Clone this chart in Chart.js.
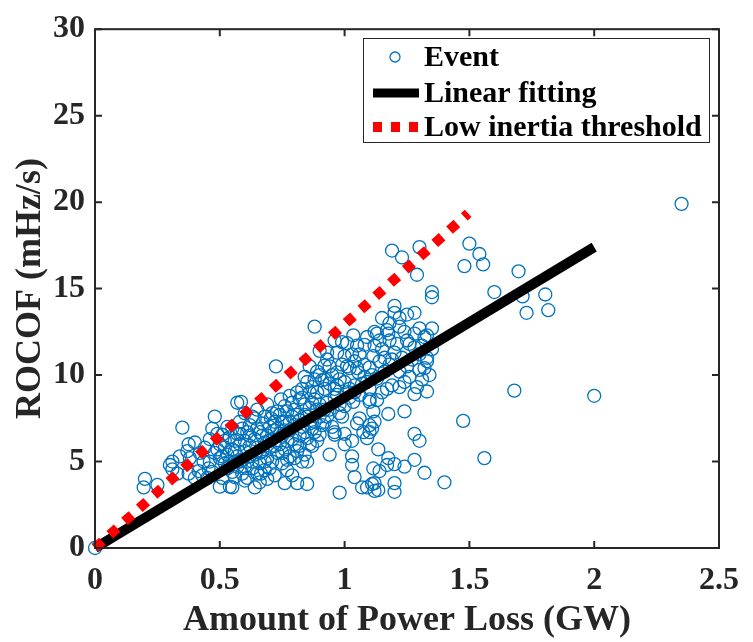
<!DOCTYPE html>
<html>
<head>
<meta charset="utf-8">
<script src="https://cdn.jsdelivr.net/npm/chart.js@4.4.1/dist/chart.umd.min.js"></script>
<style>
  body { margin: 0; background: #fff; }
  #wrap { width: 753px; height: 642px; }
</style>
</head>
<body>
<div id="wrap"><canvas id="rocofChart" width="753" height="642"></canvas></div>
<script>
// Event points (power loss in GW, ROCOF in mHz/s)
const eventLoss = [
  0, 0.2, 0.195, 0.25, 0.31, 0.31, 0.35, 0.375, 0.37, 0.40,
  0.375, 0.40, 0.415, 0.435, 0.45, 0.455, 0.3, 0.33, 0.34, 0.38,
  0.42, 0.43, 0.44, 0.46, 0.47, 0.48, 0.48, 0.50, 0.54, 0.51,
  0.51, 0.52, 0.53, 0.56, 0.56, 0.57, 0.55, 0.55, 0.585, 0.5,
  0.5, 0.52, 0.53, 0.54, 0.55, 0.55, 0.57, 0.57, 0.58, 0.58,
  0.58, 0.59, 0.59, 0.6, 0.6, 0.6, 0.61, 0.61, 0.61, 0.62,
  0.62, 0.6, 0.64, 0.66, 0.665, 0.63, 0.64, 0.64, 0.64, 0.65,
  0.65, 0.66, 0.66, 0.67, 0.67, 0.68, 0.68, 0.69, 0.69, 0.69,
  0.7, 0.7, 0.705, 0.71, 0.71, 0.72, 0.72, 0.725, 0.73, 0.73,
  0.73, 0.74, 0.745, 0.75, 0.75, 0.75, 0.76, 0.76, 0.76, 0.77,
  0.77, 0.77, 0.78, 0.78, 0.78, 0.79, 0.79, 0.80, 0.80, 0.80,
  0.81, 0.81, 0.82, 0.82, 0.82, 0.83, 0.83, 0.84, 0.84, 0.84,
  0.84, 0.85, 0.85, 0.85, 0.85, 0.86, 0.86, 0.86, 0.87, 0.87,
  0.88, 0.88, 0.88, 0.88, 0.89, 0.89, 0.89, 0.90, 0.90, 0.90,
  0.92, 0.92, 0.92, 0.92, 0.93, 0.93, 0.93, 0.94, 0.94, 0.94,
  0.95, 0.95, 0.96, 0.96, 0.96, 0.96, 0.97, 0.97, 0.97, 0.98,
  0.98, 0.98, 0.99, 0.99, 1.0, 1.0, 1.0, 1.0, 1.01, 1.01,
  1.02, 1.02, 1.03, 1.03, 1.03, 1.035, 1.035, 1.04, 1.04, 1.04,
  1.05, 1.05, 1.055, 1.06, 1.06, 1.07, 1.075, 1.08, 1.08, 1.09,
  1.09, 1.09, 1.10, 1.10, 1.10, 1.10, 1.10, 1.11, 1.11, 1.115,
  1.115, 1.115, 1.12, 1.12, 1.12, 1.12, 1.13, 1.135, 1.135, 1.14,
  1.14, 1.15, 1.15, 1.15, 1.16, 1.17, 1.17, 1.175, 1.175, 1.18,
  1.18, 1.18, 1.19, 1.19, 1.20, 1.20, 1.20, 1.20, 1.20, 1.20,
  1.22, 1.22, 1.22, 1.22, 1.23, 1.24, 1.24, 1.24, 1.25, 1.25,
  1.25, 1.26, 1.26, 1.28, 1.28, 1.28, 1.28, 1.28, 1.29, 1.30,
  1.30, 1.30, 1.30, 1.30, 1.31, 1.32, 1.32, 1.32, 1.33, 1.33,
  1.33, 1.35, 1.35, 1.35, 1.35, 1.40, 1.28, 1.13, 1.175, 1.475,
  1.48, 1.50, 1.54, 1.555, 1.56, 1.60, 1.68, 1.697, 1.713, 1.729,
  1.804, 1.816, 2.0, 2.35,
  0.46, 0.47, 0.49, 0.49, 0.51, 0.52, 0.53, 0.54, 0.56, 0.56,
  0.57, 0.58, 0.59, 0.6, 0.62, 0.62, 0.63, 0.63, 0.65, 0.65,
  0.66, 0.67, 0.68, 0.68, 0.69, 0.7, 0.7, 0.71, 0.72, 0.72,
  0.74, 0.74, 0.75, 0.76, 0.76, 0.77, 0.78, 0.79, 0.79, 0.8,
  0.81, 0.81, 0.82, 0.83, 0.83, 0.84, 0.85, 0.86, 0.86, 0.87,
  0.87, 0.88, 0.89, 0.9, 0.9, 0.91, 0.91, 0.92, 0.93, 0.94,
  0.96, 0.97, 0.98, 0.99, 1.0, 1.01, 1.02, 1.03, 1.04, 1.05,
  1.06, 1.07, 1.08, 1.09, 1.1, 1.11, 1.12, 1.13, 1.14, 1.16,
  1.17, 1.19, 1.21, 1.23, 1.24, 1.27, 1.29, 1.31, 1.33, 1.34
];
const eventRocof = [
  0, 4.0, 3.5, 3.65, 5.0, 4.55, 6.96, 6.0, 5.6, 6.1,
  4.3, 4.05, 4.45, 5.0, 4.05, 4.6, 4.8, 4.3, 5.3, 5.2,
  5.5, 4.2, 5.8, 6.3, 6.9, 7.6, 5.5, 3.55, 3.55, 4.05,
  6.55, 5.8, 4.6, 5.0, 6.2, 8.4, 3.5, 6.9, 8.45, 5.2,
  6.0, 4.9, 5.4, 6.4, 4.4, 5.7, 4.7, 5.3, 6.0, 6.6,
  7.3, 4.3, 5.1, 5.6, 6.2, 7.8, 4.05, 6.7, 5.0, 7.1,
  5.9, 3.9, 3.5, 3.8, 4.3, 4.6, 5.4, 6.3, 7.5, 8.0,
  5.8, 6.7, 4.9, 7.2, 5.6, 6.1, 4.5, 8.3, 6.5, 5.2,
  7.0, 5.8, 7.5, 5.0, 6.3, 6.8, 4.2, 10.5, 6.9, 5.5,
  7.9, 6.0, 8.6, 4.9, 7.3, 6.5, 3.75, 7.3, 5.7, 7.9,
  6.2, 4.5, 6.8, 5.3, 8.8, 7.6, 4.2, 8.0, 7.1, 6.0,
  3.75, 5.6, 8.6, 6.5, 7.4, 5.0, 9.2, 8.3, 7.7, 6.7,
  5.4, 3.7, 9.6, 5.0, 6.35, 9.0, 7.2, 8.1, 5.9, 6.9,
  9.75, 7.3, 12.8, 8.6, 8.0, 6.2, 10.2, 6.55, 7.6, 11.4,
  9.2, 9.75, 7.3, 10.55, 10.9, 11.3, 8.4, 5.4, 8.0, 9.5,
  7.0, 10.0, 6.7, 6.55, 12.0, 8.7, 10.15, 8.85, 9.4, 3.2,
  9.75, 7.8, 7.6, 10.6, 11.1, 6.6, 6.0, 8.2, 11.85, 9.0,
  9.2, 10.4, 4.8, 5.3, 6.2, 12.3, 8.45, 4.1, 9.4, 10.8,
  11.7, 7.2, 10.15, 8.85, 7.5, 3.5, 6.7, 11.75, 9.9, 9.6,
  6.35, 3.5, 10.45, 8.6, 7.1, 8.45, 6.7, 6.9, 3.7, 11.1,
  7.9, 4.6, 3.75, 3.3, 7.3, 12.5, 8.55, 5.7, 3.35, 4.45,
  10.8, 9.0, 13.3, 11.5, 10.2, 9.2, 4.8, 5.2, 7.75, 10.6,
  12.0, 13.0, 9.4, 17.2, 4.85, 3.75, 3.25, 11.3, 14.0, 13.6,
  9.3, 13.3, 12.8, 10.2, 16.8, 9.6, 7.9, 4.7, 13.5, 12.0,
  10.5, 9.9, 11.8, 8.9, 6.6, 5.1, 12.4, 11.6, 15.8, 10.3,
  6.2, 17.4, 12.7, 11.2, 9.75, 4.35, 12.2, 10.4, 9.05, 10.8,
  11.0, 11.5, 12.7, 14.8, 14.5, 3.8, 13.6, 12.4, 12.4, 7.35,
  16.3, 17.6, 17.0, 16.4, 5.2, 14.8, 9.1, 16.0, 14.55, 13.6,
  14.66, 13.75, 8.8, 19.9,
  5.0, 4.4, 5.7, 6.6, 5.3, 6.2, 7.0, 5.0, 4.1, 5.6,
  6.6, 5.0, 6.9, 4.7, 5.3, 6.5, 7.6, 5.0, 6.9, 4.3,
  5.5, 6.5, 7.6, 5.0, 4.0, 6.2, 4.6, 7.8, 5.9, 7.3,
  6.6, 7.7, 5.5, 8.2, 6.8, 5.1, 7.3, 8.4, 6.3, 5.2,
  7.7, 9.0, 5.9, 7.0, 8.7, 9.9, 7.6, 6.0, 10.5, 8.4,
  9.3, 6.7, 9.0, 8.3, 10.0, 7.1, 9.7, 8.0, 7.6, 10.5,
  9.2, 11.3, 8.3, 11.9, 9.6, 10.5, 8.7, 11.2, 9.0, 10.4,
  11.2, 9.5, 10.6, 12.2, 9.2, 10.0, 11.7, 9.8, 12.0, 11.0,
  12.6, 10.9, 11.8, 11.0, 12.5, 10.9, 9.3, 11.7, 12.3, 10.0
];

// line end points
const fitLoss = [0, 2.0];
const fitRocof = [0, 17.4];
const thresholdLoss = [0, 1.495];
const thresholdRocof = [0, 19.35];

const xTicks = [0, 0.5, 1, 1.5, 2, 2.5];
const yTicks = [0, 5, 10, 15, 20, 25, 30];

const seriesNames = ['Event', 'Linear fitting', 'Low inertia threshold'];

const FONT = "'Liberation Serif', 'Times New Roman', serif";
const AXIS_COLOR = '#262626';

const toPoints = (xs, ys) => xs.map((x, i) => ({ x: x, y: ys[i] }));

// box around the plot with inward ticks, like the original figure
const boxPlugin = {
  id: 'boxPlugin',
  afterDatasetsDraw(chart) {
    const { ctx, chartArea: a, scales: { x, y } } = chart;
    ctx.save();
    ctx.strokeStyle = AXIS_COLOR;
    ctx.lineWidth = 2;
    ctx.strokeRect(a.left, a.top, a.right - a.left, a.bottom - a.top);
    ctx.beginPath();
    xTicks.forEach(v => {
      const px = x.getPixelForValue(v);
      ctx.moveTo(px, a.bottom); ctx.lineTo(px, a.bottom - 7);
      ctx.moveTo(px, a.top); ctx.lineTo(px, a.top + 7);
    });
    yTicks.forEach(v => {
      const py = y.getPixelForValue(v);
      ctx.moveTo(a.left, py); ctx.lineTo(a.left + 7, py);
      ctx.moveTo(a.right, py); ctx.lineTo(a.right - 7, py);
    });
    ctx.stroke();
    ctx.restore();
  }
};

// legend box in the upper right corner
const legendPlugin = {
  id: 'legendPlugin',
  afterDraw(chart) {
    const ctx = chart.ctx;
    const ds = chart.data.datasets;
    const left = 363, top = 38, w = 346, h = 104;
    ctx.save();
    ctx.fillStyle = '#fff';
    ctx.fillRect(left, top, w, h);
    ctx.strokeStyle = AXIS_COLOR;
    ctx.lineWidth = 1;
    ctx.strokeRect(left + 0.5, top + 0.5, w, h);

    const rows = [57, 93, 127];
    // Event marker
    ctx.beginPath();
    ctx.strokeStyle = ds[0].borderColor;
    ctx.lineWidth = 1.3;
    ctx.arc(395, rows[0], 5, 0, Math.PI * 2);
    ctx.stroke();
    // fit line
    ctx.beginPath();
    ctx.strokeStyle = ds[1].borderColor;
    ctx.lineWidth = 9;
    ctx.moveTo(373, rows[1]); ctx.lineTo(419, rows[1]);
    ctx.stroke();
    // threshold dots
    ctx.beginPath();
    ctx.strokeStyle = ds[2].borderColor;
    ctx.lineWidth = 10;
    ctx.setLineDash([9, 9]);
    ctx.moveTo(373, rows[2]); ctx.lineTo(419, rows[2]);
    ctx.stroke();
    ctx.setLineDash([]);

    ctx.fillStyle = '#000';
    ctx.font = 'bold 30px ' + FONT;
    ctx.textBaseline = 'middle';
    ctx.textAlign = 'left';
    seriesNames.forEach((name, i) => ctx.fillText(name, 424, rows[i] + 1));
    ctx.restore();
  }
};

new Chart(document.getElementById('rocofChart').getContext('2d'), {
  type: 'scatter',
  data: {
    datasets: [
      {
        label: seriesNames[0],
        data: toPoints(eventLoss, eventRocof),
        pointStyle: 'circle',
        pointRadius: 6.5,
        pointBorderWidth: 1.3,
        borderColor: '#0072BD',
        backgroundColor: 'rgba(0,0,0,0)',
        showLine: false,
        clip: false,
        order: 3
      },
      {
        label: seriesNames[1],
        data: toPoints(fitLoss, fitRocof),
        showLine: true,
        borderColor: '#000',
        borderWidth: 10,
        pointRadius: 0,
        clip: false,
        order: 2
      },
      {
        label: seriesNames[2],
        data: toPoints(thresholdLoss, thresholdRocof),
        showLine: true,
        borderColor: '#ff0000',
        borderWidth: 10,
        borderDash: [9.92, 9.92],
        pointRadius: 0,
        clip: false,
        order: 1
      }
    ]
  },
  options: {
    responsive: false,
    animation: false,
    devicePixelRatio: 1,
    layout: { padding: { top: 22, right: 26, left: 0, bottom: 0 } },
    plugins: {
      legend: { display: false },
      tooltip: { enabled: false }
    },
    scales: {
      x: {
        type: 'linear',
        min: 0,
        max: 2.5,
        afterBuildTicks: s => { s.ticks = xTicks.map(v => ({ value: v })); },
        afterFit: s => { s.height = 94; },
        grid: { display: false, drawTicks: false },
        border: { display: false },
        ticks: {
          color: AXIS_COLOR,
          padding: 14,
          maxRotation: 0,
          callback: v => String(v),
          font: { family: FONT, size: 32, weight: 'bold' }
        },
        title: {
          display: true,
          text: 'Amount of Power Loss (GW)',
          color: AXIS_COLOR,
          padding: { top: 0, bottom: 0 },
          font: { family: FONT, size: 36, weight: 'bold' }
        }
      },
      y: {
        type: 'linear',
        min: 0,
        max: 30,
        afterBuildTicks: s => { s.ticks = yTicks.map(v => ({ value: v })); },
        afterFit: s => { s.width = 95; },
        grid: { display: false, drawTicks: false },
        border: { display: false },
        ticks: {
          color: AXIS_COLOR,
          padding: 10,
          callback: v => String(v),
          font: { family: FONT, size: 32, weight: 'bold' }
        },
        title: {
          display: true,
          text: 'ROCOF (mHz/s)',
          color: AXIS_COLOR,
          padding: { top: 9, bottom: 0 },
          font: { family: FONT, size: 36, weight: 'bold' }
        }
      }
    }
  },
  plugins: [boxPlugin, legendPlugin]
});
</script>
</body>
</html>
